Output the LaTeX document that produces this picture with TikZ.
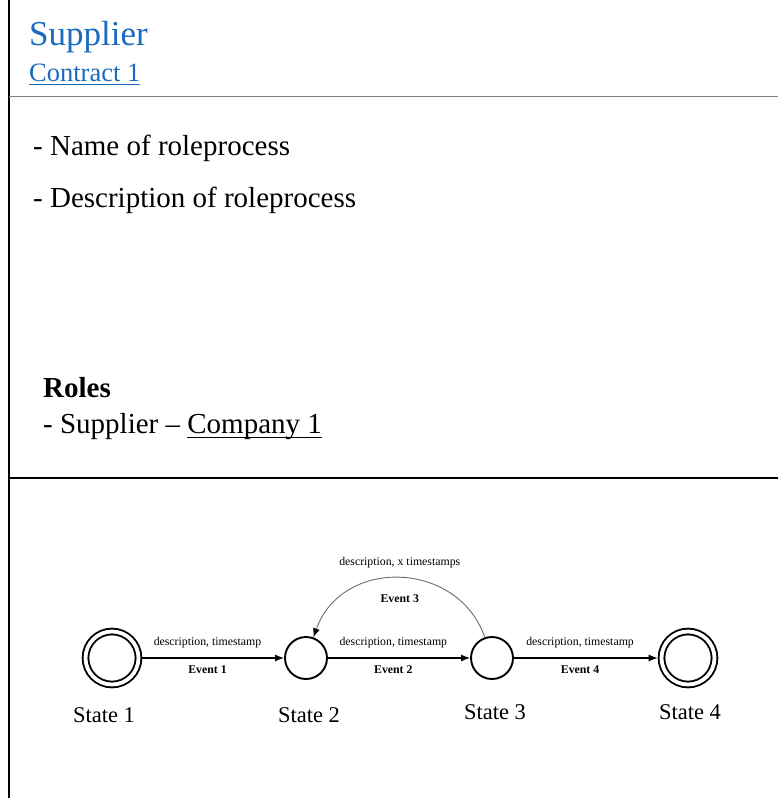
\documentclass[tikz,border=0pt]{standalone}
\usepackage{fontspec}
\setmainfont{Liberation Serif}
\usepackage{xcolor}
\usetikzlibrary{positioning,arrows.meta}
\definecolor{linkblue}{RGB}{28,106,190}
\newlength\ulwidth
\newcommand{\ulink}[2][5pt]{\settowidth{\ulwidth}{#2}\rlap{\rule[-#1]{\ulwidth}{1.2pt}}#2}
\tikzset{
  txt/.style={anchor=base west,inner sep=0pt},
  big/.style={font=\fontsize{29}{34}\selectfont},
  small/.style={font=\fontsize{11.8}{14}\selectfont,inner sep=0pt,text=black},
  stlabel/.style={anchor=base,inner sep=0pt,font=\fontsize{22.5}{26}\selectfont},
  plainstate/.style={circle,draw,line width=1.9pt,minimum size=42pt,inner sep=0pt},
  finalstate/.style={circle,draw,line width=1.9pt,double,double distance=3.8pt,
    minimum size=53pt,inner sep=0pt,outer sep=3.8pt}}

\begin{document}
\begin{tikzpicture}[x=1pt,y=-1pt]
        \useasboundingbox (0,0) rectangle (778,798);
        % frame
        \draw[line width=1.5pt] (9,0) -- (9,798);
        \draw[gray,line width=1pt] (9,96) -- (778,96);
        \draw[line width=2.5pt] (9,478) -- (778,478);
        % header and text
        \node[txt,text=linkblue,font=\fontsize{35}{40}\selectfont] (title) at (29,45) {Supplier};
        \node[txt,text=linkblue,font=\fontsize{26.5}{30}\selectfont] (contract) at (29,81) {\ulink[4pt]{Contract 1}};
        \node[txt,big] (name) at (33,155) {- Name of roleprocess};
        \node[txt,big] (descr) at (33,207) {- Description of roleprocess};
        \node[txt,big] (roles) at (43,397) {\textbf{Roles}};
        \node[txt,big] (supplier) at (43,433) {- Supplier -- \ulink{Company 1}};
        % states
        \node[finalstate] (s1) at (112,658) {};
        \node[plainstate] (s2) at (306,658) {};
        \node[plainstate] (s3) at (492,658) {};
        \node[finalstate] (s4) at (688,658) {};
        \node[stlabel] (l1) at (104,722) {State 1};
        \node[stlabel] (l2) at (309,722) {State 2};
        \node[stlabel] (l3) at (495,719) {State 3};
        \node[stlabel] (l4) at (690,719) {State 4};
        % transitions
        \begin{scope}[every edge/.style={draw,line width=1.1pt,-{Latex[length=9pt,width=7pt]}},
                      every node/.style={small}]
            \path (s1) edge node[pos=.46,above=9.5pt]{description, timestamp}
                            node[pos=.46,below=7pt]{\textbf{Event 1}} (s2);
            \path (s2) edge node[pos=.46,above=9.5pt]{description, timestamp}
                            node[pos=.46,below=7pt]{\textbf{Event 2}} (s3);
            \path (s3) edge node[pos=.46,above=9.5pt]{description, timestamp}
                            node[pos=.46,below=7pt]{\textbf{Event 4}} (s4);
        \end{scope}
        \draw[gray!85!black,line width=0.9pt,-{Latex[length=9pt,width=7pt,color=black]}]
            (s3) .. controls (458,560) and (342,557) .. (s2)
            node[small,pos=.5,above=9.5pt]{description, x timestamps}
            node[small,pos=.5,below=16pt]{\textbf{Event 3}};
\end{tikzpicture}
\end{document}
